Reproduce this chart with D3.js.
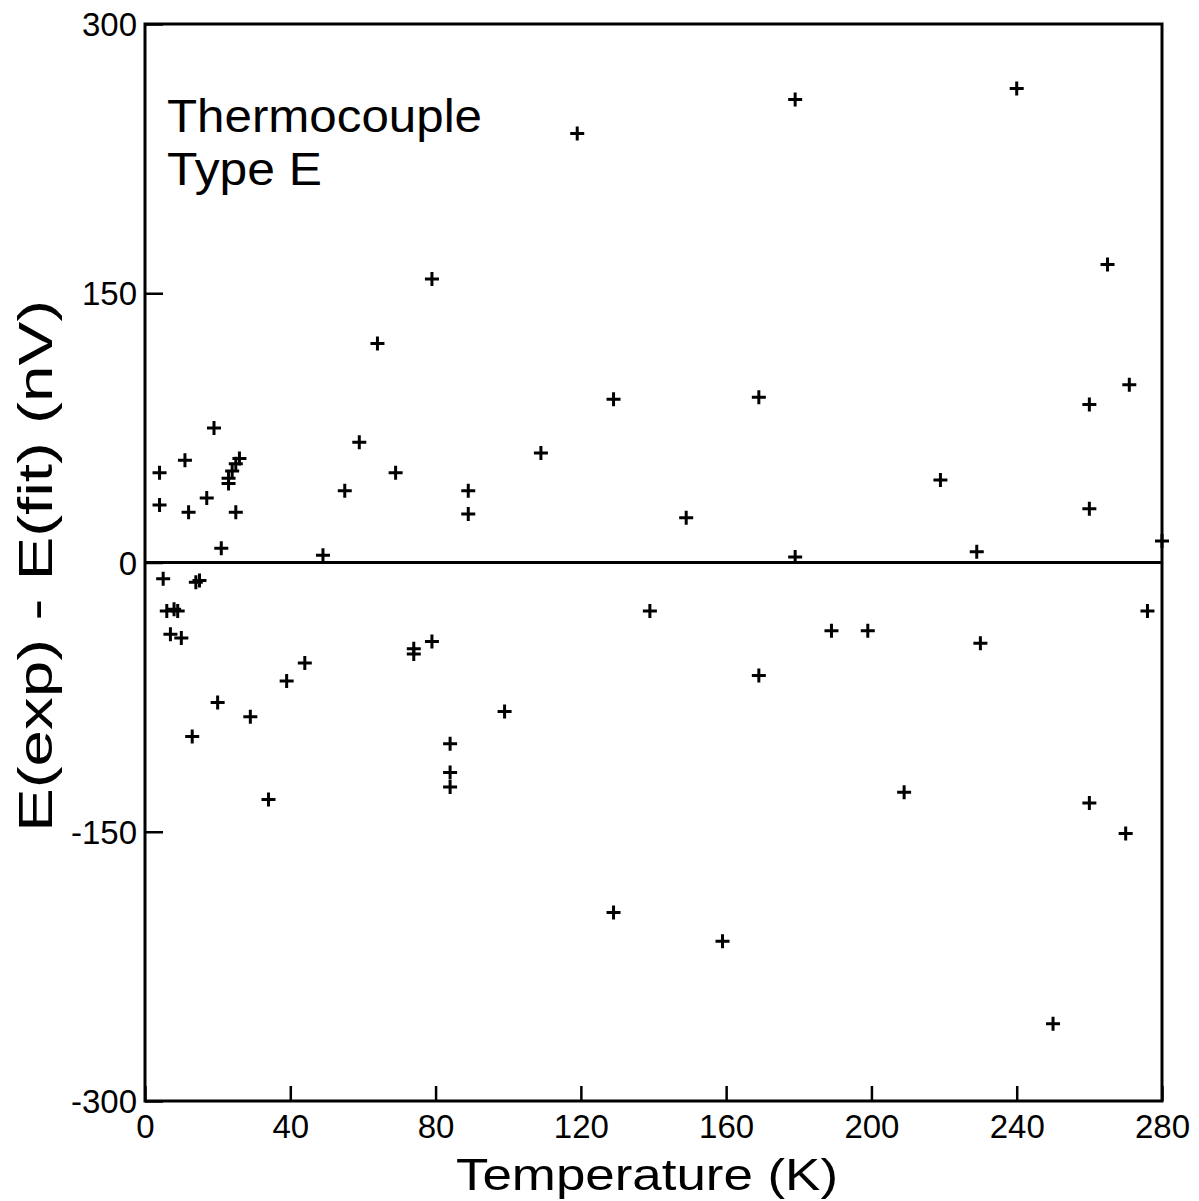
<!DOCTYPE html>
<html>
<head>
<meta charset="utf-8">
<script src="https://cdn.jsdelivr.net/npm/d3@7"></script>
<style>
  html, body { margin: 0; padding: 0; background: #fff; }
  svg { display: block; }
  text { font-family: "Liberation Sans Narrow", "Liberation Sans", sans-serif; fill: #000; }
</style>
</head>
<body>
<svg id="chart" width="1199" height="1201"></svg>
<script>
// Data: temperature (K) and residual E(exp) - E(fit) (nV)
const temperature = [
  4, 4, 11, 12, 17, 19, 21, 23, 23, 24, 25, 26, 25,
  49, 55, 59, 64, 69, 79, 89, 89, 109, 119, 129, 149, 169, 179, 179,
  219, 229, 240, 260, 260, 265, 271, 280,
  5, 15, 14, 6, 8, 9, 7, 10, 20, 13, 29, 39, 44, 74, 74, 79, 34,
  84, 84, 84, 99, 139, 169, 189, 199, 209, 230, 260, 270, 276, 129, 159, 250
];
const residual = [
  50, 32, 57, 28, 36, 75, 8, 44, 47, 51, 55, 58, 28,
  4, 40, 67, 122, 50, 158, 40, 27, 61, 239, 91, 25, 92, 258, 3,
  46, 6, 264, 88, 30, 166, 99, 12,
  -9, -10, -11, -27, -26, -27, -40, -42, -78, -97, -86, -66, -56, -48, -51, -44, -132,
  -101, -117, -125, -83, -27, -63, -38, -38, -128, -45, -134, -151, -27, -195, -211, -257
];
const xTicks = [0, 40, 80, 120, 160, 200, 240, 280];
const yTicks = [-300, -150, 0, 150, 300];
const titleLines = ["Thermocouple", "Type E"];
const xLabel = "Temperature (K)";
const yLabel = "E(exp) - E(fit) (nV)";

const svg = d3.select("#chart");
const x = d3.scaleLinear().domain([0, 280]).range([145, 1162]);
const y = d3.scaleLinear().domain([-300, 300]).range([1101, 24]);

// X axis
const gx = svg.append("g")
  .attr("transform", `translate(0,${y(-300)})`)
  .call(d3.axisBottom(x).tickValues(xTicks).tickSize(-15).tickPadding(14).tickFormat(d3.format("d")));
gx.select(".domain").remove();
gx.selectAll("line").attr("stroke", "#000").attr("stroke-width", 2.5);
gx.selectAll("text").style("font-size", "33px").attr("dy", "0.71em").attr("fill", "#000");

// Y axis
const gy = svg.append("g")
  .attr("transform", `translate(${x(0)},0)`)
  .call(d3.axisLeft(y).tickValues(yTicks).tickSize(-18).tickPadding(8).tickFormat(d => d3.format("d")(d).replace("\u2212", "-")));
gy.select(".domain").remove();
gy.selectAll("line").attr("stroke", "#000").attr("stroke-width", 2.5);
gy.selectAll("text").style("font-size", "33px").attr("fill", "#000").attr("dy", "0.35em");

// Frame
svg.append("rect")
  .attr("x", x(0)).attr("y", y(300))
  .attr("width", x(280) - x(0)).attr("height", y(-300) - y(300))
  .attr("fill", "none").attr("stroke", "#000").attr("stroke-width", 3);

// Zero line
svg.append("line")
  .attr("x1", x(0)).attr("x2", x(280))
  .attr("y1", y(0)).attr("y2", y(0))
  .attr("stroke", "#000").attr("stroke-width", 3);

// Markers
const pts = temperature.map((t, i) => [t, residual[i]]);
const s = 7;
svg.append("g").selectAll("path").data(pts).join("path")
  .attr("d", d => `M${x(d[0]) - s},${y(d[1])}H${x(d[0]) + s}M${x(d[0])},${y(d[1]) - s}V${y(d[1]) + s}`)
  .attr("stroke", "#000").attr("stroke-width", 3).attr("fill", "none");

// Title
svg.append("text").attr("x", 167).attr("y", 132)
  .attr("textLength", 315).attr("lengthAdjust", "spacingAndGlyphs")
  .style("font-size", "46px").text(titleLines[0]);
svg.append("text").attr("x", 167).attr("y", 185)
  .attr("textLength", 155).attr("lengthAdjust", "spacingAndGlyphs")
  .style("font-size", "46px").text(titleLines[1]);

// Axis labels
svg.append("text").attr("x", 456).attr("y", 1190)
  .attr("textLength", 382).attr("lengthAdjust", "spacingAndGlyphs")
  .style("font-size", "44px").text(xLabel);
svg.append("text")
  .attr("transform", "translate(52,832) rotate(-90)")
  .attr("textLength", 532).attr("lengthAdjust", "spacingAndGlyphs")
  .style("font-size", "48px").text(yLabel);
</script>
</body>
</html>
